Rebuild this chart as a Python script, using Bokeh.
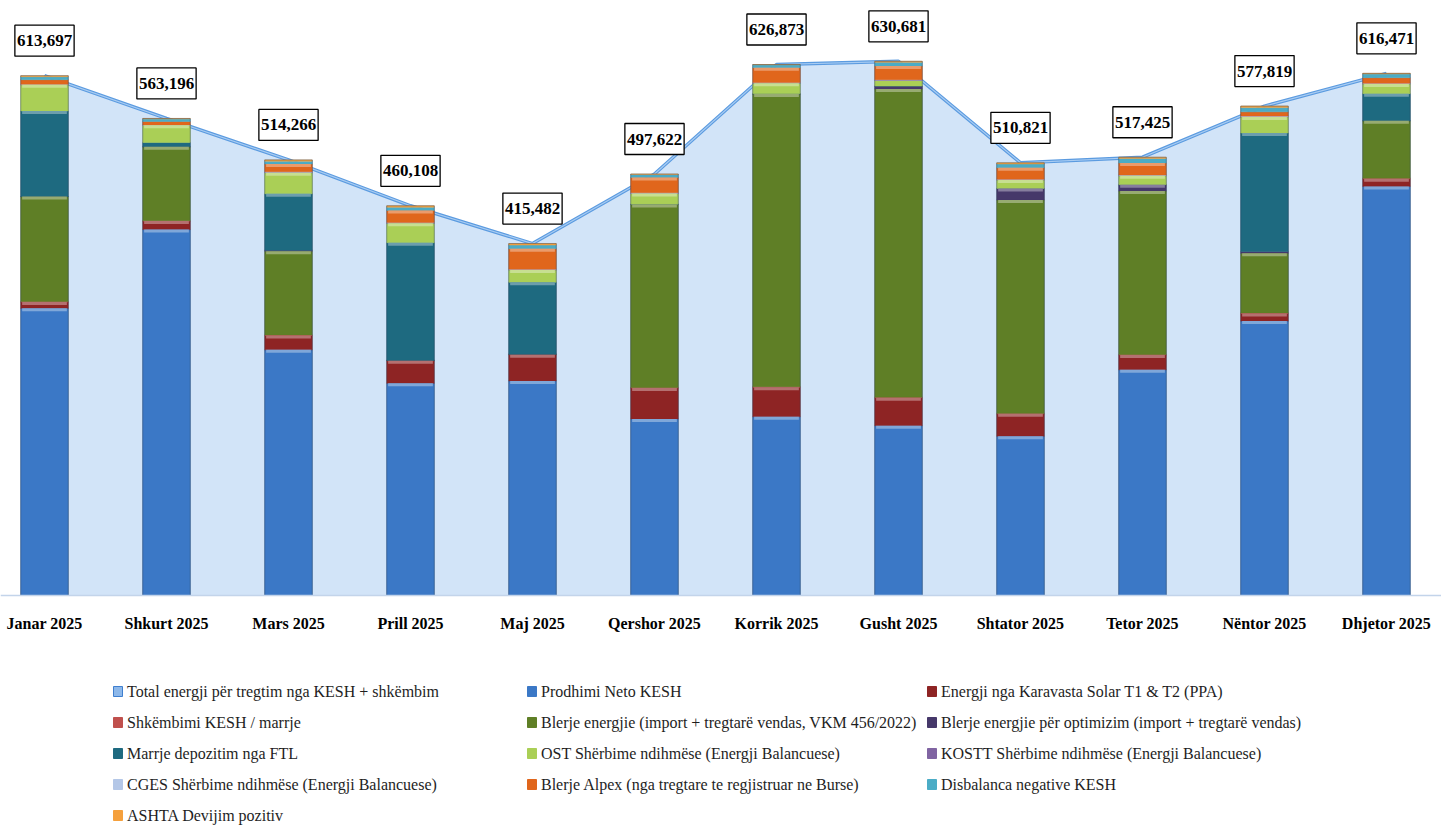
from bokeh.plotting import figure
from bokeh.models import ColumnDataSource, Span
from bokeh.core.properties import value
from bokeh.embed import file_html
from bokeh.resources import INLINE

months = ["Janar 2025", "Shkurt 2025", "Mars 2025", "Prill 2025", "Maj 2025", "Qershor 2025",
          "Korrik 2025", "Gusht 2025", "Shtator 2025", "Tetor 2025", "Nëntor 2025", "Dhjetor 2025"]

total = [613697, 563196, 514266, 460108, 415482, 497622, 626873, 630681, 510821, 517425, 577819, 616471]

prodhimi = [339000, 432000, 290000, 250500, 253300, 208500, 211000, 200500, 188000, 266500, 324000, 483000]
karavasta = [7500, 10000, 17000, 26500, 31000, 36500, 35000, 33000, 26500, 17500, 9000, 9000]
shkembimi = [500, 300, 500, 500, 500, 500, 500, 500, 500, 500, 500, 500]
blerje = [124000, 87500, 99000, 0, 0, 216000, 345500, 364000, 252000, 193000, 70500, 68000]
optim = [0, 0, 1200, 0, 0, 500, 300, 3500, 13500, 7500, 2000, 0]
ftl = [101000, 5000, 66500, 139000, 85000, 0, 0, 0, 0, 0, 140000, 32000]
ost = [31000, 20400, 25000, 23000, 14500, 12500, 12500, 6500, 10000, 10500, 19000, 11500]
kostt = [0, 0, 500, 500, 500, 500, 300, 500, 500, 500, 500, 300]
cges = [500, 400, 600, 500, 500, 500, 500, 500, 500, 500, 500, 500]
alpex = [5500, 4000, 9000, 14000, 24000, 18000, 17500, 16000, 13500, 14000, 5000, 6500]
disbalanca = [3500, 3000, 3500, 4000, 4500, 3500, 3500, 4500, 4500, 5500, 5000, 4500]
ashta = [1197, 596, 1466, 1608, 1682, 622, 273, 1181, 1321, 1425, 1819, 671]

series_names = [
    "Prodhimi Neto KESH",
    "Energji nga Karavasta Solar T1 & T2 (PPA)",
    "Shkëmbimi KESH / marrje",
    "Blerje energjie (import + tregtarë vendas, VKM 456/2022)",
    "Blerje energjie për optimizim (import + tregtarë vendas)",
    "Marrje depozitim nga FTL",
    "OST Shërbime ndihmëse (Energji Balancuese)",
    "KOSTT Shërbime ndihmëse (Energji Balancuese)",
    "CGES Shërbime ndihmëse (Energji Balancuese)",
    "Blerje Alpex (nga tregtare te regjistruar ne Burse)",
    "Disbalanca negative KESH",
    "ASHTA Devijim pozitiv",
]
series_values = [prodhimi, karavasta, shkembimi, blerje, optim, ftl, ost, kostt, cges, alpex, disbalanca, ashta]
series_colors = ["#3B78C6", "#8E2424", "#C0504D", "#5F7F26", "#46386A", "#1E6A80",
                 "#AACF56", "#8064A2", "#B4C7E7", "#E0661C", "#4BACC6", "#F5A03C"]
total_name = "Total energji për tregtim nga KESH + shkëmbim"
total_key_color = "#8DB8EA"

xs = list(range(len(months)))
data = {"x": xs, "total": total, "label": [f"{v:,}" for v in total], "month": months}
keys = []
for i, vals in enumerate(series_values):
    k = f"s{i}"
    data[k] = vals
    keys.append(k)
src = ColumnDataSource(data)

SERIF = "Liberation Serif"
W, H = 1441, 827
CAT_PX = 122.0      # pixels per category
BASE_PX = 595.0     # pixel row of the zero line
UNIT_PER_PX = 1180.6
BAR_W = 0.39
x0 = -44.0 / CAT_PX
p = figure(width=W, height=H, output_backend="svg", toolbar_location=None,
           x_range=(x0, x0 + W / CAT_PX),
           y_range=(-(H - BASE_PX) * UNIT_PER_PX, BASE_PX * UNIT_PER_PX),
           min_border_left=0, min_border_right=0, min_border_top=0, min_border_bottom=0,
           background_fill_color="white", border_fill_color="white")
p.outline_line_color = None
p.grid.visible = False
p.xaxis.visible = False
p.yaxis.visible = False

# area (total)
p.varea(x="x", y1=0, y2="total", source=src, fill_color="#D2E4F8", fill_alpha=1.0)
p.line(x="x", y="total", source=src, line_color="#5B9BE0", line_width=3.5)
p.line(x="x", y="total", source=src, line_color="#A9CCF2", line_width=1.2)

p.add_layout(Span(location=0, dimension="width", line_color="#C3D4EA", line_width=1.5))

# stacked bars
p.vbar_stack(keys, x="x", width=BAR_W, source=src, color=series_colors,
             line_color=series_colors, line_width=0.5)

# light bevel band on top of each stacked segment (Excel-like shading)
def lighten(hex_color, f):
    r, g, b = (int(hex_color[i:i + 2], 16) for i in (1, 3, 5))
    r, g, b = (int(c + (255 - c) * f) for c in (r, g, b))
    return f"#{r:02x}{g:02x}{b:02x}"

bx, btop, bbot, bcol = [], [], [], []
band = 3.0 * UNIT_PER_PX
for j in xs:
    cum = 0
    for vals, col in zip(series_values, series_colors):
        v = vals[j]
        if v > 2 * band:
            bx.append(j)
            btop.append(cum + v)
            bbot.append(cum + v - band)
            bcol.append(lighten(col, 0.35))
        cum += v
p.vbar(x=bx, top=btop, bottom=bbot, width=BAR_W * 0.94, fill_color=bcol, line_color=None)

p.vbar(x="x", top="total", width=BAR_W, source=src, fill_color=None,
       line_color="#2C3E57", line_alpha=0.45, line_width=1)

# value labels in boxes
p.text(x="x", y="total", text="label", source=src, y_offset=-35,
       text_font=value(SERIF), text_font_style="bold", text_font_size="17px",
       text_align="center", text_baseline="middle", text_color="black",
       background_fill_color="white", border_line_color="black", border_line_width=1.3,
       padding=dict(left=2, right=2, top=10, bottom=10))

# category labels
p.text(x="x", y=0, text="month", source=src, y_offset=28,
       text_font=value(SERIF), text_font_style="bold", text_font_size="16px",
       text_align="center", text_baseline="middle", text_color="black")

# legend (3 columns, row-major), positioned in screen pixels
leg_names = [total_name] + series_names
leg_colors = [total_key_color] + series_colors
leg_lines = ["#3F7FCF"] + series_colors
COL_PX = [113, 527, 927]
ROW0_PX, ROW_STEP = 691, 31
lx, ly = [], []
for i in range(len(leg_names)):
    r, c = divmod(i, 3)
    px = COL_PX[c] + 4.5
    py = ROW0_PX + ROW_STEP * r
    lx.append(x0 + px / CAT_PX)
    ly.append((BASE_PX - py) * UNIT_PER_PX)
lsrc = ColumnDataSource({"x": lx, "y": ly, "name": leg_names, "fill": leg_colors, "line": leg_lines})
p.rect(x="x", y="y", width=9, height=10, width_units="screen", height_units="screen",
       source=lsrc, fill_color="fill", line_color="line", line_width=1)
p.text(x="x", y="y", text="name", source=lsrc, x_offset=9,
       text_font=value(SERIF), text_font_size="16px", text_color="#1E1E1E",
       text_align="left", text_baseline="middle")

open("out.html", "w").write(file_html(p, INLINE))
